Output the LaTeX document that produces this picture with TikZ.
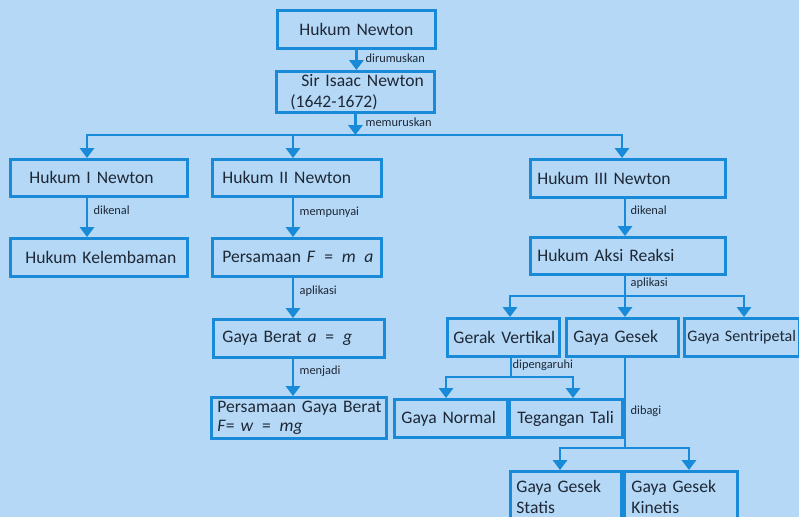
\documentclass[tikz,border=0pt]{standalone}
\usepackage{fontspec}
\setmainfont{Carlito}
\usepackage{tikz}
\usetikzlibrary{arrows.meta,positioning,calc}
\definecolor{latarbiru}{RGB}{180,216,245}
\definecolor{garisbiru}{RGB}{24,138,216}
\definecolor{teksgelap}{RGB}{30,40,55}
\newlength\upx
\setlength\upx{0.025cm}

\begin{document}
\begin{tikzpicture}[x=0.025cm, y=-0.025cm, font=\fontsize{12.5}{14}\selectfont, text=teksgelap,
    kotak/.style={rectangle, draw=garisbiru, line width=2pt, anchor=north west, align=left, inner xsep=0pt, inner ysep=1pt},
    garis/.style={garisbiru, line width=2pt, line cap=rect},
    panah/.style={garisbiru, line width=2pt, -{Triangle[width=10pt,length=7pt]}},
    ket/.style={font=\fontsize{8.8}{9}\selectfont, anchor=west, inner sep=1pt}]

        \clip (0,0) rectangle (799,517);
        \fill[latarbiru] (0,0) rectangle (799,517);

        % kotak-kotak
        \node[kotak, align=center, minimum width=158\upx, minimum height=38\upx, text width=140\upx] (newton) at (276,9) {\mbox{Hukum Newton}};
        \node[kotak, minimum width=158\upx, minimum height=41\upx, text width=130\upx, font=\fontsize{12.5}{15}\selectfont] (isaac) at (275,70) {\mbox{\hspace*{11\upx}Sir Isaac Newton}\\\mbox{(1642-1672)}};
        \node[kotak, minimum width=177\upx, minimum height=37\upx, text width=139\upx] (hk1) at (9,158) {\mbox{Hukum I Newton}};
        \node[kotak, minimum width=169\upx, minimum height=37\upx, text width=149\upx] (hk2) at (211,158) {\mbox{Hukum II Newton}};
        \node[kotak, minimum width=195\upx, minimum height=38\upx, text width=181\upx] (hk3) at (529,158) {\mbox{Hukum III Newton}};
        \node[kotak, minimum width=177\upx, minimum height=38\upx, text width=147\upx] (lembam) at (9,237) {\mbox{Hukum Kelembaman}};
        \node[kotak, minimum width=169\upx, minimum height=38\upx, text width=149\upx] (persF) at (211,237) {\mbox{Persamaan \textit{F} \,=\, \textit{m} \,\textit{a}}};
        \node[kotak, minimum width=195\upx, minimum height=37\upx, text width=181\upx] (aksi) at (529,236) {\mbox{Hukum Aksi Reaksi}};
        \node[kotak, minimum width=171\upx, minimum height=38\upx, text width=153\upx] (berat) at (212,318) {\mbox{Gaya Berat \textit{a} \,=\, \textit{g}}};
        \node[kotak, minimum width=175\upx, minimum height=41\upx, text width=163\upx, font=\fontsize{12.5}{13}\selectfont] (persW) at (210,396) {\mbox{Persamaan Gaya Berat}\\\mbox{\textit{F}= \textit{w} \,=\, \textit{mg}}};
        \node[kotak, minimum width=112\upx, minimum height=38\upx, text width=100\upx] (vertikal) at (446,317) {\mbox{Gerak Vertikal}};
        \node[kotak, minimum width=112\upx, minimum height=38\upx, text width=98\upx] (gesek) at (565,317) {\mbox{Gaya Gesek}};
        \node[kotak, minimum width=115\upx, minimum height=38\upx, text width=109\upx, font=\fontsize{11.4}{14}\selectfont] (sentri) at (683,317) {\mbox{Gaya Sentripetal}};
        \node[kotak, minimum width=113\upx, minimum height=38\upx, text width=99\upx] (normal) at (393,398) {\mbox{Gaya Normal}};
        \node[kotak, minimum width=113\upx, minimum height=38\upx, text width=97\upx] (tali) at (508,398) {\mbox{Tegangan Tali}};
        \node[kotak, minimum width=111\upx, minimum height=52\upx, text width=99\upx, font=\fontsize{12.5}{15}\selectfont] (statis) at (509,470) {\mbox{Gaya Gesek}\\\mbox{Statis}};
        \node[kotak, minimum width=113\upx, minimum height=52\upx, text width=99\upx, font=\fontsize{12.5}{15}\selectfont] (kinetis) at (623,470) {\mbox{Gaya Gesek}\\\mbox{Kinetis}};

        % titik cabang
        \coordinate (ckiri) at (87,135);
        \coordinate (ctengah) at (293,135);
        \coordinate (ckanan) at (622,135);
        \coordinate (daksi) at (625,296);
        \coordinate (dvert) at (510,296);
        \coordinate (dsentri) at (744,296);
        \coordinate (evert) at (511,377);
        \coordinate (enormal) at (446,377);
        \coordinate (etali) at (573,377);
        \coordinate (fgesek) at (625,448);
        \coordinate (fstatis) at (560,448);
        \coordinate (fkinetis) at (689,448);

        % panah
        \draw[panah] (newton.south) -- (newton.south |- isaac.north);
        \draw[panah] (isaac.south) -- (isaac.south |- ckiri);
        \draw[garis] (ckiri) -- (ckanan);
        \draw[panah] (ckiri) -- (ckiri |- hk1.north);
        \draw[panah] (ctengah) -- (ctengah |- hk2.north);
        \draw[panah] (ckanan) -- (ckanan |- hk3.north);
        \draw[panah] (hk1.south -| ckiri) -- (ckiri |- lembam.north);
        \draw[panah] (hk2.south -| ctengah) -- (ctengah |- persF.north);
        \draw[panah] (persF.south -| ctengah) -- (ctengah |- berat.north);
        \draw[panah] (berat.south -| ctengah) -- (ctengah |- persW.north);
        \draw[panah] (hk3.south -| daksi) -- (daksi |- aksi.north);
        \draw[garis] (aksi.south -| daksi) -- (daksi);
        \draw[garis] (dvert) -- (dsentri);
        \draw[panah] (dvert) -- (dvert |- vertikal.north);
        \draw[panah] (daksi) -- (daksi |- gesek.north);
        \draw[panah] (dsentri) -- (dsentri |- sentri.north);
        \draw[garis] (vertikal.south -| evert) -- (evert);
        \draw[garis] (enormal) -- (etali);
        \draw[panah] (enormal) -- (enormal |- normal.north);
        \draw[panah] (etali) -- (etali |- tali.north);
        \draw[garis] (gesek.south -| fgesek) -- (fgesek);
        \draw[garis] (fstatis) -- (fkinetis);
        \draw[panah] (fstatis) -- (fstatis |- statis.north);
        \draw[panah] (fkinetis) -- (fkinetis |- kinetis.north);

        % keterangan
        \node[ket] (kdirumus) at (364,58) {dirumuskan};
        \node[ket] (kmerumus) at (364,122) {memuruskan};
        \node[ket] (kkenal1) at (92,210) {dikenal};
        \node[ket] (kpunya) at (298,212) {mempunyai};
        \node[ket] (kkenal3) at (629,210) {dikenal};
        \node[ket] (kaplik2) at (298,291) {aplikasi};
        \node[ket] (kaplik3) at (629,283) {aplikasi};
        \node[ket] (kjadi) at (298,371) {menjadi};
        \node[ket] (kpengaruh) at (511,365) {dipengaruhi};
        \node[ket] (kbagi) at (629,411) {dibagi};
      \end{tikzpicture}
\end{document}
